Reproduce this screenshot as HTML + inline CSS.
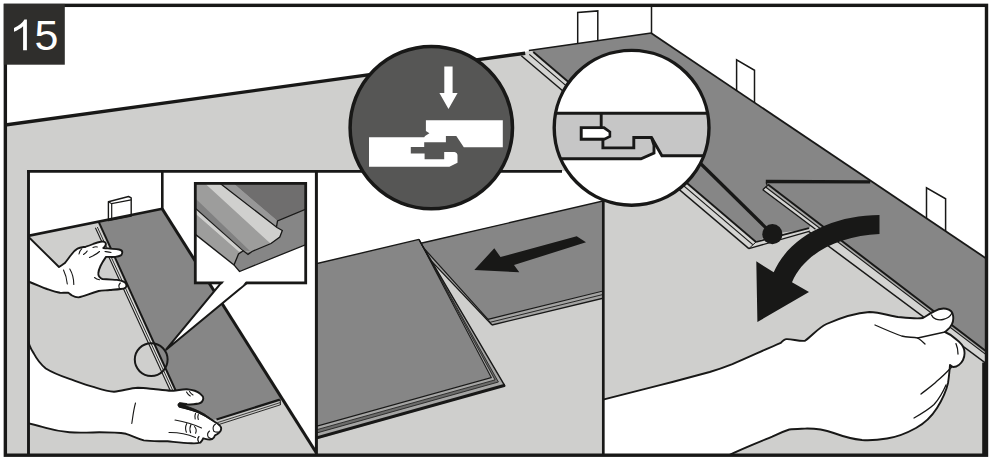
<!DOCTYPE html>
<html><head><meta charset="utf-8">
<style>
html,body{margin:0;padding:0;background:#fff;}
body{width:993px;height:461px;overflow:hidden;font-family:"Liberation Sans",sans-serif;}
svg{display:block;position:absolute;left:0;top:0;}
#num{position:absolute;left:4px;top:4.6px;width:61px;height:61px;background:transparent;color:#fff;font-family:"Liberation Sans",sans-serif;font-size:43px;line-height:61px;text-align:center;letter-spacing:-1px;}
</style></head><body>
<svg width="993" height="461" viewBox="0 0 993 461">
<defs>
<clipPath id="cWhite"><circle cx="631.6" cy="127.8" r="77.4"/></clipPath>
<clipPath id="cInset"><rect x="28" y="171" width="288.4" height="284"/></clipPath>
<clipPath id="cMid"><rect x="316" y="171" width="287.5" height="284"/></clipPath>
<clipPath id="cBox"><rect x="195.3" y="183.4" width="110.4" height="99.5"/></clipPath>
<clipPath id="cMain"><rect x="5" y="5" width="982" height="450.5"/></clipPath>
</defs>
<rect width="993" height="461" fill="#fff"/>

<!-- MAIN SCENE -->
<g clip-path="url(#cMain)">
<polygon points="5,124.8 525,53.2 651,33 987,259 987,456 5,456" fill="#cfcfcd"/>
<!-- spacers -->
<polygon points="577.7,50 577.7,12.5 597.8,10.9 597.8,47" fill="#fff" stroke="#181817" stroke-width="1.5"/>
<polygon points="736.6,95 736.6,59.9 754.5,70.3 754.5,108" fill="#fff" stroke="#181817" stroke-width="1.5"/>
<polygon points="926.5,223 926.5,187.8 945.6,198.8 945.6,236" fill="#fff" stroke="#181817" stroke-width="1.5"/>
<!-- dark planks -->
<polygon points="528.9,50.4 651,33 987,259 987,352 933,310.5 813,221 809,229 772,234 756,242 533.3,52" fill="#868686"/>
<!-- row2 plank1 tongue strips -->
<polygon points="521.3,55.7 524.5,52.2 529.2,50.6 533.3,52 756,242 748.9,248.6" fill="#d4d4d2"/>
<line x1="521.3" y1="55.7" x2="748.9" y2="248.6" stroke="#181817" stroke-width="1.4"/>
<line x1="529.3" y1="54.4" x2="752.8" y2="244.6" stroke="#181817" stroke-width="1.2"/>
<line x1="533.3" y1="52" x2="756" y2="242" stroke="#181817" stroke-width="1.8"/>
<!-- plank1 end -->
<polygon points="748.9,248.6 756,242 808.5,228.3 809,231.6" fill="#d4d4d2"/>
<line x1="748.9" y1="248.6" x2="810" y2="231.2" stroke="#181817" stroke-width="1.4"/>
<line x1="756" y1="242" x2="809" y2="228.2" stroke="#181817" stroke-width="1.8"/>
<line x1="748.9" y1="248.6" x2="756" y2="242" stroke="#181817" stroke-width="1"/>
<!-- joint line -->
<line x1="698" y1="161" x2="772.4" y2="234.2" stroke="#181817" stroke-width="3.3"/>
<!-- raised plank -->
<polygon points="766,181.5 869.4,181.9 987,259 987,352 768,184.5" fill="#868686"/>
<polygon points="762.8,189.8 768,184.5 987,352 987,364.1 808.8,231.5 815.5,229.3" fill="#d4d4d2"/>
<polygon points="765.6,187 768,184.5 987,352 987,355.4" fill="#a9a9a8"/>
<line x1="762.8" y1="189.8" x2="815.5" y2="229.3" stroke="#181817" stroke-width="1.4"/>
<line x1="808.8" y1="231.5" x2="987" y2="364.1" stroke="#181817" stroke-width="1.5"/>
<line x1="765.6" y1="187" x2="987" y2="355.4" stroke="#181817" stroke-width="1.1"/>
<line x1="768" y1="184.5" x2="987" y2="351.9" stroke="#181817" stroke-width="2"/>
<polyline points="762.8,189.8 767.3,185.6 766.2,182.5" fill="none" stroke="#181817" stroke-width="1.3"/>
<line x1="765.8" y1="181.5" x2="870.2" y2="181.9" stroke="#181817" stroke-width="3.4"/>
<!-- wall lines -->
<line x1="5" y1="125" x2="525.2" y2="53.2" stroke="#181817" stroke-width="3.4"/>
<line x1="528.9" y1="50.4" x2="651.3" y2="33" stroke="#181817" stroke-width="1.5"/>
<line x1="651.5" y1="5" x2="651.5" y2="33.5" stroke="#181817" stroke-width="1.5"/>
<line x1="651" y1="33" x2="987" y2="259" stroke="#181817" stroke-width="1.8"/>
<!-- dot -->
<circle cx="772.4" cy="234.2" r="10.1" fill="#181817"/>
<!-- curved arrow -->
<path d="M879.5,215 C835,215 790,235 773.7,272.3 L756.3,261.3 L757.4,322 L809,292 L792,282.3 C805,252 840,236 879.5,234 Z" fill="#181817"/>
<!-- right hand / arm -->
<path d="M603,399.6 L660,385.2 C677,380.8 695,376 709.7,372 C718,369.5 725,367 732.4,364.1 C748,357.5 765,349.5 780.8,342.8 C783,340.5 784.5,339.2 786.4,339.1 C792,338.8 799,341.5 805,340.8 C812,336 818,328 826.5,324 C840,318 855,313 869.4,312 C880,312 890,316 898,317 C908,318 916,319 923,318 C927,316 930,313 934,311.5 C938,309 942,308 946,308.7 C950,309.5 952.5,311.5 953,315 C953.5,318 953.5,321 952,324 C950.5,328 947,330 945,332 C950,334 954,337 957,340 C961,343 963,346 964,349 C965,353 964.5,357 963,360 C961,364 957,367 953.5,367 C952,367 951,366 950,365 C949.5,371 949,377 948,383 C946,392 942,400 937,408 C932,416 925,423 916,428 C907,433 897,437 887,438.5 C878,440 870,440.5 862,440 C852,439 842,436 833.7,433 C825,430 817,428.3 805,428.6 C799,428.8 794,428.8 789.3,429.5 C783,431.5 777.5,434 772.2,436.6 C766.5,439 761,441.2 755.2,443.7 C746,447.5 738,451 726,456.5 L603,456 Z" fill="#fff" stroke="#181817" stroke-width="1.9" stroke-linejoin="round"/>
<g fill="none" stroke="#181817" stroke-width="1.3" stroke-linecap="round">
<path d="M875,325 C884,329 893,333 901.6,336 C907,337.5 912,337 917.7,338 C921,340 923,342 925,344"/>
<path d="M917.7,338 C927,336 936,334 945,332"/>
<path d="M956,343.7 C957.5,347 958,350.5 958,354"/>
<path d="M951.7,367 C947,372 942,377 937,381 C932,386 926,390 921,394"/>
<path d="M946,385 C943,392 939,399 934,404.5 C928,410 921,414 914,418"/>
<path d="M931.5,315 C933,319 938,320.5 943,319.5 C947.5,318.5 950.5,316 952,313"/>
</g>
<rect x="982.2" y="362.6" width="6" height="93" fill="#181817"/>
</g>

<!-- INSET STRIP -->
<!-- left inset -->
<g clip-path="url(#cInset)">
<rect x="27" y="170" width="290" height="286" fill="#fff"/>
<polygon points="27,236 162,208.6 317.4,454.5 317,456 27,456" fill="#cfcfcd"/>
<!-- plank -->
<polygon points="99,221.7 162.2,208.7 282.5,399 216.5,419.5 190,422" fill="#868686"/>
<!-- left strips -->
<polygon points="95.4,227.7 98,226.5 190,422 185.6,422" fill="#dededc"/>
<line x1="95.4" y1="227.7" x2="185.6" y2="424" stroke="#181817" stroke-width="1.1"/>
<line x1="97.3" y1="227" x2="187.8" y2="423" stroke="#181817" stroke-width="0.9"/>
<line x1="98.7" y1="221.9" x2="190" y2="422" stroke="#181817" stroke-width="2"/>
<!-- bottom strips -->
<polygon points="216.5,419.5 279.7,399.6 280.4,404.6 218,424.5" fill="#c9c9c7"/>
<line x1="216.5" y1="419.5" x2="279.9" y2="399.6" stroke="#181817" stroke-width="2.3"/>
<line x1="217.5" y1="422.6" x2="280.2" y2="402.6" stroke="#181817" stroke-width="0.8"/>
<line x1="218" y1="424.8" x2="280.4" y2="404.8" stroke="#181817" stroke-width="0.9"/>
<line x1="280.2" y1="399.4" x2="280.4" y2="405" stroke="#181817" stroke-width="1"/>
<!-- spacer -->
<polygon points="108.4,220.5 108.4,201.7 128.6,196.5 131.2,197.8 131.2,216" fill="#fff" stroke="#181817" stroke-width="1.4" stroke-linejoin="round"/>
<polyline points="108.4,201.7 111.7,203.7 131.2,199.8" fill="none" stroke="#181817" stroke-width="1.2"/>
<line x1="111.7" y1="203.7" x2="111.7" y2="219.5" stroke="#181817" stroke-width="1.2"/>
<!-- wall/floor lines -->
<line x1="27" y1="236" x2="162.3" y2="208.7" stroke="#181817" stroke-width="2.7"/>
<line x1="162.3" y1="171" x2="162.3" y2="209.5" stroke="#181817" stroke-width="2.6"/>
<line x1="162.2" y1="208.7" x2="317.4" y2="454.5" stroke="#181817" stroke-width="3"/>
<!-- upper hand -->
<path d="M27,235.3 L59,267 C61,265.6 62.8,264.6 64.6,263.3 C67,260.5 69,257.5 71,255 C73,252 75,250 77.5,248.6 C80,247.3 83,247.2 85.8,246.7 C88.5,246 91,245 93.2,244 C95.5,243 98,241.9 100.5,241.7 C102,241.5 103.6,241.5 104.6,242 C105.8,242.8 106.1,243.8 105.7,244.9 C105.3,246.2 104.5,247.2 103.3,248 C105.5,248.3 107.6,248.4 109.8,248.6 C113,248.9 116,249 119,249.5 C121,249.9 122.3,250.8 122.3,252.2 C122.3,253.6 121.8,254.7 120.8,255.4 C119.3,256.4 117.3,256.7 115.3,256.9 C112.2,257 109.1,256.9 106,256.9 C104,259.8 102,262.8 100.5,266 C99.4,268.4 98.4,270.9 98.3,273.4 C98.2,274.9 98.7,276.2 99.6,277 C100.3,278 101.3,278.7 102.4,279 C107.2,279.5 112.2,279.6 117,279.9 C119.3,280.2 121.8,280.7 123.6,281.7 C125,282.4 126,283.3 126.3,284.5 C126.6,285.8 126.2,287 125.4,287.8 C124.3,288.7 122.6,288.9 120.8,289 C117.2,289.5 113.4,289.7 109.8,290 C106,290.4 102.3,290.5 98.7,291 C95,292 91.3,293.3 87.7,294.6 C84.6,295.7 81.5,296.8 78.4,297.4 C76.2,297.3 74,296.6 72,295.5 C70.6,294.7 69.5,293.5 68.3,292.8 C65.5,292.5 62.7,293 60,292.8 C55.5,291.9 51.2,290.4 47,289 C41,286.7 35,284 27,281 Z" fill="#fff" stroke="#181817" stroke-width="1.9" stroke-linejoin="round"/>
<g fill="none" stroke="#181817" stroke-width="1.1" stroke-linecap="round">
<path d="M63.5,270 C65.5,274 66.8,279 67.3,284"/>
<path d="M69.8,269 C72.5,273.5 73.8,279 73.8,284.5"/>
<path d="M79,254 C79.3,251.8 80.3,250 81.7,248.8"/>
<path d="M83.5,254.5 C85,253.5 86.5,252.5 87.2,251"/>
<path d="M89.5,257.5 C93,256 96.5,254.5 99.5,251.5"/>
<path d="M93,247.5 C94.6,246.8 96,246.6 97.3,247"/>
<path d="M105,251.5 C107.4,251.8 109.4,252 111,252.5"/>
<path d="M94.5,277.5 C95.8,278.7 97.5,279.5 99.5,279.8"/>
<path d="M120.3,283 C118.8,284.5 118.6,287 119.8,288.8"/>
</g>
<!-- lower hand -->
<path d="M27,336 C28,342 30,348 33.9,353.6 C37,359.5 41,364.5 45.8,368.5 C53,373 61,376 69.5,378.9 C77,381.5 85,384.5 93.3,386.9 C100,389 107,391.5 114,391.7 C122,391 130,388.2 137.9,387.8 C144,388 150,388.8 155.7,389.3 C162,389.8 168,390.8 173.5,390.8 C178,390.5 182.5,389 186.9,389.3 C192,389.8 197,391 200.2,393.7 C202.5,395.5 203.5,397 203.2,398.8 C203,401 201,402.8 198.7,403.5 C194,404.5 189,404.5 183.9,404.7 C182,405 180.5,405.5 179.4,406.5 C185,408 191.5,409.5 197.3,411.6 C203.5,414.5 209.5,418 215,422 C217.5,423.5 220,425 221,427.3 C221.5,429.5 221,431 219.5,432.3 C218,433.8 216.5,434.6 215,435.3 C214.5,437 213.5,438.5 212.1,439.2 C209,440 206,439 203.2,438.3 C202.5,440 201.5,441.5 200.2,442.7 C197,443.5 194,443.5 191.3,443.3 C183,443 175,442 167.6,441.3 C159,441 151,441.5 143.8,440.4 C137,438.5 131.5,435.5 126,433.8 C117,432.3 108,432.3 99.3,432.3 C89,432.5 79,433 69.5,432.3 C61,431.5 53,430 45.8,427.9 C39,426 33,424.5 27,423 Z" fill="#fff" stroke="#181817" stroke-width="1.9" stroke-linejoin="round"/>
<path d="M179.6,402.6 C177.3,403.6 177.3,406.6 180,407.3 C188,409 196,411.5 203.5,415.3 L214.5,421.8 L204.5,414 C198,410.3 191,407.6 185,405.6 L187,403.6 Z" fill="#181817" stroke="#181817" stroke-width="0.8" stroke-linejoin="round"/>
<g fill="none" stroke="#181817" stroke-width="1.1" stroke-linecap="round">
<path d="M135.5,403 C133.5,410 132.8,417 131.8,423.5"/>
<path d="M175,420 C184,421.5 193,424 201.5,428"/>
<path d="M169,432.5 C178,432.3 187,434 195.5,437.5"/>
<path d="M186.5,392 C187.5,393.8 188.8,395.2 190.3,396"/>
<path d="M189.5,391.5 C190.5,393 191.6,394.2 193,395"/>
<path d="M195.5,413.5 C194.7,415.5 194.6,417.3 195.2,419"/>
<path d="M198.3,414.5 C197.6,416.3 197.6,418 198.3,419.5"/>
<path d="M186.8,423.5 C185.3,426.5 185.2,429.5 186.4,432.3"/>
<path d="M191,424.5 C189.7,427 189.6,430 190.6,432.8"/>
<path d="M194.5,426.5 C196.3,428.5 196.6,431 195.6,433.2"/>
<path d="M215.5,424 C213.2,425.6 212.6,428.5 213.8,431.2 C215.3,432.2 217.4,432.3 219.2,432"/>
<path d="M209.5,431 C207.6,432.5 207.2,435 208.3,437.2 C209.5,438.4 211,438.8 212.3,438.8"/>
<path d="M199,436.5 C197.6,438 197.4,440 198.5,441.8"/>
</g>
<!-- callout pointer -->
<polygon points="221.8,282 245.7,284 165.8,349.9" fill="#fff" stroke="#181817" stroke-width="2" stroke-linejoin="miter"/>
<circle cx="151.2" cy="359.6" r="16.4" fill="none" stroke="#181817" stroke-width="2"/>
</g>
<!-- zoom box -->
<rect x="195.3" y="183.4" width="110.4" height="99.5" fill="#868686"/>
<g clip-path="url(#cBox)">
<polygon points="195,183 306,183 306,252 195,252" fill="#9d9d9c"/>
<polygon points="233,183 306,183 306,209 277.5,221" fill="#6f6e6e"/>
<polygon points="219.6,183 233,183 277.5,221 276.5,227" fill="#979797"/>
<polygon points="204.5,183 219.6,183 277,227.5 282,230.5 279.5,237 270.5,243.5" fill="#d0d0ce"/>
<polygon points="195,198 195,208 243.5,250.5 250,251" fill="#818181"/>
<polygon points="195,208 195,213.5 239,252 243.5,250.5" fill="#d0d0ce"/>
<polygon points="195,213.5 195,234 234,265 238.5,254 243.3,250.8 239,252" fill="#9d9d9c"/>
<polygon points="234,265 238.5,254 243.3,250.8 248,254.4 252,251.5 271,243.5 280,237 282.5,230.5 276.5,226.5 277.5,221 306,209 306,244.5 239.5,271.5" fill="#868686"/>
<polygon points="195,234 234,265 239.5,271.5 306,244.5 306,284 195,284" fill="#fff"/>
<path d="M219.6,183 L277,227.5 L282.3,230.5 L279.8,237 L271,243.5 L252,251.5 L248,254.4 L243.3,250.8 L238.5,254 L234,265 L239.5,271.5 L306,244.5" fill="none" stroke="#181817" stroke-width="1.3"/>
<path d="M306,209 L277.5,221 L276.5,226.8" fill="none" stroke="#181817" stroke-width="1.3"/>
<path d="M195,208 L243.3,250.8" fill="none" stroke="#181817" stroke-width="1.1"/>
<path d="M195,234 L234,265" fill="none" stroke="#181817" stroke-width="1.4"/>
</g>
<rect x="195.3" y="183.4" width="110.4" height="99.5" fill="none" stroke="#181817" stroke-width="2.8"/>
<polygon points="224.9,280.5 246.6,280.5 243.4,284.6 240.2,287.2 219.6,287.2" fill="#fff"/>

<!-- middle panel -->
<g clip-path="url(#cMid)">
<rect x="316" y="171" width="289" height="285" fill="#cfcfcd"/>
<polygon points="316,171 605,171 605,201 420,243.6 419,239.4 316,263.8" fill="#fff"/>
<!-- plank 2 -->
<polygon points="419,243.6 605,200.6 605,290.5 488,319.4" fill="#868686"/>
<polygon points="488,319.4 605,290.5 605,297.8 492,325" fill="#a3a3a2"/>
<polygon points="416.9,245.8 419.8,243.7 488,319.4 492,325" fill="#a3a3a2"/>
<line x1="419.8" y1="243.5" x2="605" y2="200.6" stroke="#181817" stroke-width="1.4"/>
<line x1="488" y1="319.4" x2="605" y2="290.5" stroke="#181817" stroke-width="1.2"/>
<line x1="490" y1="322.3" x2="605" y2="294" stroke="#181817" stroke-width="0.9"/>
<line x1="492" y1="325" x2="605" y2="297.8" stroke="#181817" stroke-width="1.3"/>
<line x1="419.8" y1="243.7" x2="488" y2="319.4" stroke="#181817" stroke-width="1.2"/>
<line x1="416.9" y1="245.8" x2="492" y2="325" stroke="#181817" stroke-width="1.2"/>
<line x1="488" y1="319.4" x2="492" y2="325" stroke="#181817" stroke-width="0.9"/>
<!-- plank 1 -->
<polygon points="316,263.8 419,239.4 491.3,377.6 316.0,426.4" fill="#868686"/>
<polygon points="316.0,426.4 491.3,377.6 505.0,386.1 316.0,439.4" fill="#a5a5a4"/>
<polygon points="419.0,239.4 421.0,243.2 505.0,386.1 491.3,377.6" fill="#a5a5a4"/>
<polygon points="316.0,429.9 495.0,379.9 498.4,382.0 316.0,433.2" fill="#6c6c6b"/>
<polygon points="419.5,240.4 420.0,241.4 498.4,382.0 495.0,379.9" fill="#6c6c6b"/>
<line x1="316" y1="263.8" x2="419" y2="239.4" stroke="#181817" stroke-width="1.4"/>
<polyline points="316.0,426.4 491.3,377.6 419.0,239.4" fill="none" stroke="#181817" stroke-width="1.1"/>
<polyline points="316.0,429.9 495.0,379.9 419.5,240.4" fill="none" stroke="#181817" stroke-width="0.8"/>
<polyline points="316.0,433.2 498.4,382.0 420.0,241.4" fill="none" stroke="#181817" stroke-width="0.8"/>
<polyline points="419.0,239.4 421.0,243.2 505.0,386.1" fill="none" stroke="#181817" stroke-width="1.4"/>
<line x1="316.0" y1="438.1" x2="505.0" y2="385.2" stroke="#181817" stroke-width="3"/>
<!-- arrow -->
<polygon points="576.7,236.3 586,242.3 514,265 519.3,272.3 474.3,270 494.3,248.3 500.5,257" fill="#181817"/>
</g>

<!-- inset borders -->
<line x1="27" y1="171.4" x2="562" y2="171.4" stroke="#181817" stroke-width="2.9"/>
<line x1="28.5" y1="170" x2="28.5" y2="456" stroke="#181817" stroke-width="2.9"/>
<line x1="316.4" y1="171" x2="316.4" y2="456" stroke="#181817" stroke-width="3"/>
<line x1="603.3" y1="190" x2="603.3" y2="456" stroke="#181817" stroke-width="2.7"/>

<!-- dark circle -->
<circle cx="431.3" cy="127.65" r="81.2" fill="#565655" stroke="#181817" stroke-width="3.5"/>
<g fill="#fff">
<polygon points="444.3,66.5 452.6,66.5 452.6,93 457.6,93 448.5,109 439.4,93 444.3,93"/>
<path d="M425.9,120.3 L502.8,120.3 L502.8,147.2 L463.8,147.2 L456.3,136.1 L445.9,136.1 L445.9,142.2 L424.2,142.2 L424.2,146.9 L410.8,146.9 L410.8,153.4 L424.6,153.4 L424.6,159.3 L444.2,159.3 L444.2,152 L454.5,152 Q457.5,152.5 457.5,155.6 L457.5,162.8 L449.4,166.8 L369,166.8 L369,137.3 L424.2,137.3 L425.1,136.1 L429.4,133.3 L425.9,130.9 Z"/>
</g>

<!-- white circle -->
<circle cx="631.6" cy="127.8" r="77.4" fill="#fff"/>
<g clip-path="url(#cWhite)">
<polygon points="550,113.2 720,113.2 720,155.7 661.9,155.7 651.5,137.5 654,145.3 654,153.1 641,158.8 550,158.8" fill="#c6c6c6"/>
<polygon points="582.5,129.3 603,129.3 609,132.5 609,136 604,137.8 582.5,137.8" fill="#fff"/>
<g fill="none" stroke="#181817" stroke-width="2.9" stroke-linejoin="miter">
<line x1="550" y1="113.2" x2="720" y2="113.2"/>
<path d="M550,158.8 L641,158.8 L654,153.1 L654,145.3 L651.5,137.5"/>
<path d="M720,155.7 L661.9,155.7 L651.5,137.5 L633.8,137.5 L633.8,147.9 L602.9,147.9 L602.9,139.2 L581.2,139.2 L581.2,127.6 L601.2,127.6 L601.2,113.2"/>
<path d="M601.2,127.6 L604,127.6 L609.9,132 L609.9,136.5 L604.5,139.2 L602.9,139.2" stroke-width="2.6"/>
</g>
</g>
<circle cx="631.6" cy="127.8" r="77.4" fill="none" stroke="#181817" stroke-width="3.4"/>

<!-- outer border -->
<rect x="5.35" y="5.35" width="981.15" height="449.85" fill="none" stroke="#181817" stroke-width="3.4"/>
<rect x="3.9" y="3.9" width="60.9" height="60.8" fill="#2f2e2c"/>
<path d="M26.9,50.3 L23.1,50.3 L23.1,26.3 C20.6,28.6 17.4,30.5 14,31.7 L14,28 C18.6,25.9 22.6,22.6 24.4,19.4 L26.9,19.4 Z" fill="#fff"/>
</svg>
<div id="num"><span style="visibility:hidden">1</span>5</div>
</body></html>
